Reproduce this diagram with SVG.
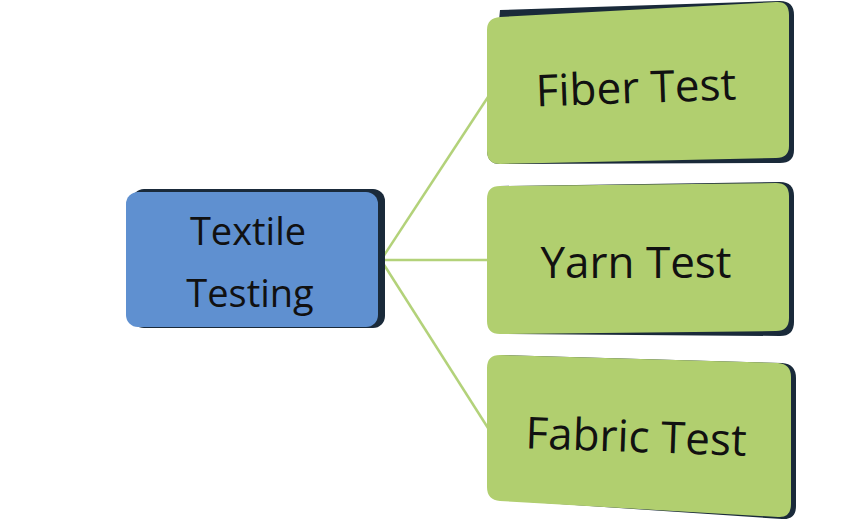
<svg xmlns="http://www.w3.org/2000/svg" width="865" height="523" viewBox="0 0 865 523">
<style>
.sh{fill:#1a2a3a}
.g{fill:#b1cf6f}
.b{fill:#5f90d0}
.t{font-family:"Open Sans","Liberation Sans",sans-serif;fill:#111;text-anchor:middle}
.c{stroke:#b3d27a;stroke-width:2.5;fill:none}
</style>
<rect width="865" height="523" fill="#fff"/>
<g id="connectors">
<line class="c" x1="381" y1="260" x2="488" y2="97"/>
<line class="c" x1="381" y1="260" x2="488" y2="260"/>
<line class="c" x1="381" y1="260" x2="488" y2="428"/>
</g>
<g id="textile-testing">
<rect class="sh" x="132" y="189" width="253" height="139" rx="12"/>
<rect class="b" x="126" y="192" width="252" height="135" rx="12"/>
<text class="t" x="248" y="245" font-size="38">Textile</text>
<text class="t" x="250" y="307" font-size="38">Testing</text>
</g>
<g id="fiber-test">
<path class="sh" d="M500,10 L780,1 Q794,1 794,15 L794,150 Q794,163 780,163 L500,164 Q487,164 487,150 Z"/>
<path class="g" d="M500,17 L776,2 Q789,1 789,15 L789,146 Q789,158 776,158 L500,164 Q487,164 487,151 L487,30 Q487,18 500,17 Z"/>
<text class="t" x="636" y="103" font-size="44" transform="rotate(-2 636 90)">Fiber Test</text>
</g>
<g id="yarn-test">
<path class="sh" d="M500,186 L780,182 Q794,182 794,196 L794,322 Q794,336 780,336 L500,334 Z"/>
<path class="g" d="M500,186 L776,183 Q789,183 789,196 L789,318 Q789,331 776,331 L500,334 Q487,334 487,321 L487,199 Q487,186 500,186 Z"/>
<text class="t" x="636" y="278" font-size="44">Yarn Test</text>
</g>
<g id="fabric-test">
<path class="sh" d="M500,355 L782,363 Q796,364 796,378 L796,506 Q796,520 782,519 L500,500 Z"/>
<path class="g" d="M500,355 L778,363 Q791,364 791,377 L791,504 Q791,518 778,517 L500,501 Q487,500 487,487 L487,368 Q487,355 500,355 Z"/>
<text class="t" x="636" y="452" font-size="44" transform="rotate(2 636 440)">Fabric Test</text>
</g>
</svg>
